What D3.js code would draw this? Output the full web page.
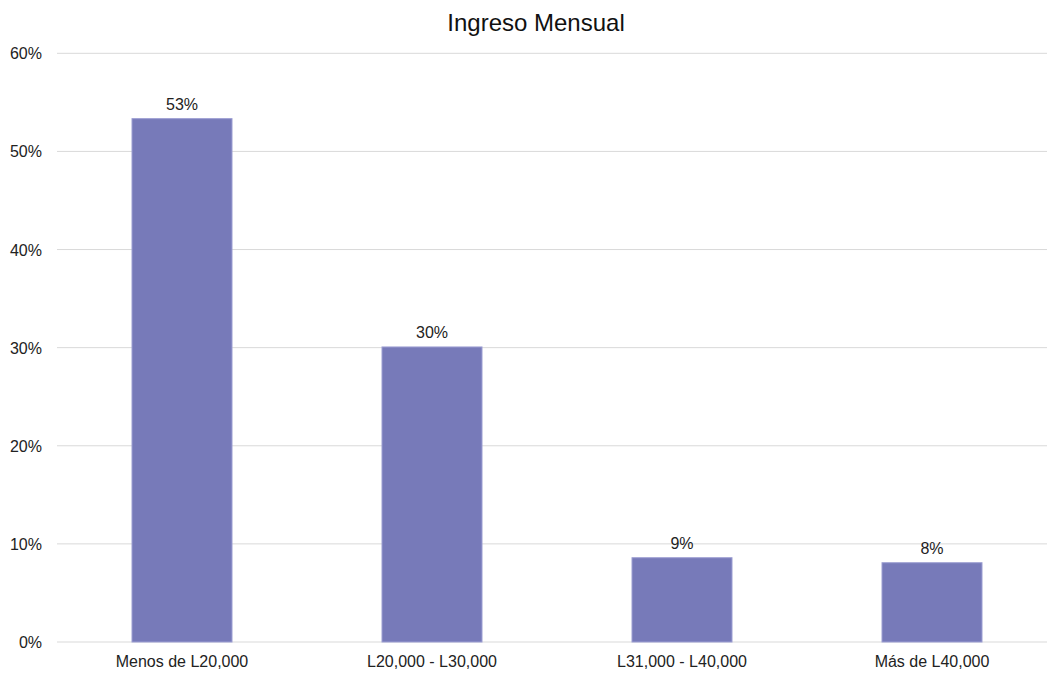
<!DOCTYPE html>
<html>
<head>
<meta charset="utf-8">
<script src="https://cdn.jsdelivr.net/npm/d3@7"></script>
<style>
  html, body { margin: 0; padding: 0; background: #fff; }
  svg { display: block; font-family: "Liberation Sans", Arial, sans-serif; }
</style>
</head>
<body>
<svg id="chart" width="1047" height="673"></svg>
<script>
// Monthly income distribution (share of respondents)
const categories = ["Menos de L20,000", "L20,000 - L30,000", "L31,000 - L40,000", "Más de L40,000"];
const shares = [53.34, 30.07, 8.59, 8.08];
const yTicks = [0, 10, 20, 30, 40, 50, 60];
const title = "Ingreso Mensual";

const W = 1047, H = 673;
const plot = { left: 57, right: 1057, top: 53.3, bottom: 642 };

const svg = d3.select("#chart");

const x = d3.scaleBand()
  .domain(categories)
  .range([plot.left, plot.right])
  .paddingInner(0.6)
  .paddingOuter(0.3);

const y = d3.scaleLinear()
  .domain([0, 60])
  .range([plot.bottom, plot.top]);

// Horizontal gridlines
svg.append("g")
  .selectAll("line")
  .data(yTicks)
  .join("line")
  .attr("x1", plot.left)
  .attr("x2", W)
  .attr("y1", d => y(d))
  .attr("y2", d => y(d))
  .attr("stroke", "#d9d9d9")
  .attr("stroke-width", 1);

// Y axis labels
svg.append("g")
  .selectAll("text")
  .data(yTicks)
  .join("text")
  .attr("x", 42)
  .attr("y", d => y(d) + 6)
  .attr("text-anchor", "end")
  .attr("font-size", 16)
  .attr("fill", "#222")
  .text(d => d + "%");

// Bars
svg.append("g")
  .selectAll("rect")
  .data(categories)
  .join("rect")
  .attr("x", d => x(d))
  .attr("width", x.bandwidth())
  .attr("y", (d, i) => y(shares[i]))
  .attr("height", (d, i) => y(0) - y(shares[i]))
  .attr("fill", "#777ab9")
  .attr("stroke", "#9c9ed2")
  .attr("stroke-width", 1);

// Value labels
svg.append("g")
  .selectAll("text")
  .data(categories)
  .join("text")
  .attr("x", d => x(d) + x.bandwidth() / 2)
  .attr("y", (d, i) => y(shares[i]) - 9)
  .attr("text-anchor", "middle")
  .attr("font-size", 16)
  .attr("fill", "#222")
  .text((d, i) => Math.round(shares[i]) + "%");

// Category labels
svg.append("g")
  .selectAll("text")
  .data(categories)
  .join("text")
  .attr("x", d => x(d) + x.bandwidth() / 2)
  .attr("y", 667)
  .attr("text-anchor", "middle")
  .attr("font-size", 16)
  .attr("fill", "#222")
  .text(d => d);

// Title
svg.append("text")
  .attr("x", 536)
  .attr("y", 31)
  .attr("text-anchor", "middle")
  .attr("font-size", 24)
  .attr("fill", "#111")
  .text(title);
</script>
</body>
</html>
